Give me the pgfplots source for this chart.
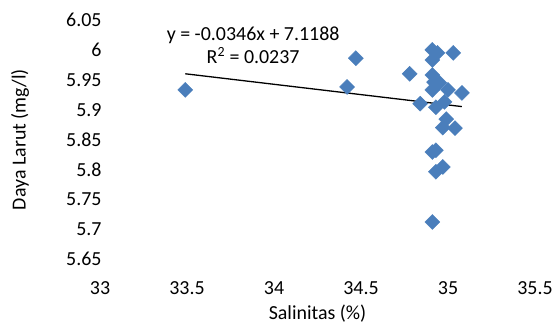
\documentclass[border=0pt]{standalone}
\usepackage{fontspec}
\setmainfont{Carlito}
\usepackage{pgfplots}
\pgfplotsset{compat=1.18}
\definecolor{ptblue}{HTML}{4A7EBB}
\begin{document}
\begin{tikzpicture}[x=1bp,y=1bp]
\useasboundingbox (-100bp,-67bp) rectangle (458bp,259bp);
\begin{axis}[
  at={(0bp,0bp)}, anchor=south west,
  scale only axis,
  width=435bp, height=239bp,
  xmin=33, xmax=35.5, ymin=5.65, ymax=6.05,
  xtick={33,33.5,34,34.5,35,35.5},
  ytick={5.65,5.7,5.75,5.8,5.85,5.9,5.95,6,6.05},
  axis line style={draw=none},
  major tick length=0pt,
  /pgf/number format/assume math mode=true,
  xticklabel style={font=\fontsize{20}{22}\selectfont, yshift=-19bp},
  yticklabel style={font=\fontsize{20}{22}\selectfont, xshift=5bp},
  xticklabel={\pgfmathprintnumber[fixed]{\tick}},
  yticklabel={\pgfmathprintnumber[fixed,precision=2]{\tick}},
  xlabel={Salinitas (\%)},
  ylabel={Daya Larut (mg/l)},
  xlabel style={font=\fontsize{20}{22}\selectfont, at={(0.5,0)}, anchor=north, yshift=-42bp},
  ylabel style={font=\fontsize{20}{22}\selectfont},
  every axis y label/.append style={at={(-80bp,119.5bp)}, anchor=center, rotate=0},
  clip=false,
]
\addplot[only marks, mark=diamond*, mark size=7.5bp, mark options={xscale=1.333, fill=ptblue, draw=ptblue}] coordinates {
(33.49,5.933)
(34.42,5.938)
(34.47,5.986)
(34.78,5.960)
(34.91,6.000)
(34.94,5.995)
(35.03,5.995)
(34.91,5.983)
(34.91,5.958)
(34.92,5.946)
(34.91,5.933)
(34.95,5.945)
(35.00,5.933)
(35.08,5.928)
(34.84,5.910)
(34.93,5.904)
(34.98,5.913)
(34.99,5.884)
(34.97,5.870)
(35.04,5.869)
(34.91,5.829)
(34.93,5.832)
(34.93,5.796)
(34.97,5.804)
(34.91,5.712)
};
\addplot[black, line width=1.3bp] coordinates {(33.49,5.9600) (35.08,5.9051)};
\node[font=\fontsize{20}{23}\selectfont, align=center] at (axis cs:33.88,6.007) {y = -0.0346x + 7.1188\\R\textsuperscript{2} = 0.0237};
\end{axis}
\end{tikzpicture}
\end{document}
